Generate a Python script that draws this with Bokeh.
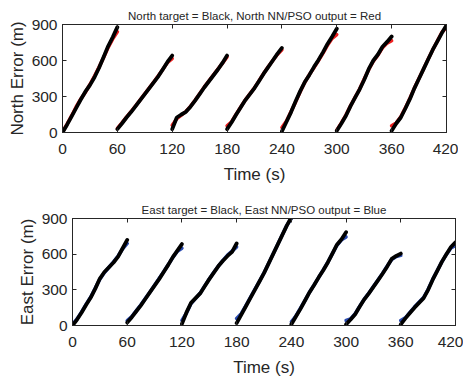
from bokeh.plotting import figure
from bokeh.models import LinearAxis, FixedTicker, Range1d
from bokeh.embed import file_html
from bokeh.resources import INLINE

# ---- data ----
segment_start_s = [0, 60, 120, 180, 240, 300, 360]
sample_offset_s = [0, 5, 10, 15, 20, 25, 30, 35, 40, 45, 50, 55, 60]

north_target = [
    [0, 65, 135, 205, 275, 340, 395, 460, 540, 630, 720, 795, 878],
    [28, 75, 125, 170, 220, 270, 320, 370, 420, 470, 530, 590, 641],
    [28, 125, 150, 172, 215, 265, 320, 375, 425, 475, 525, 580, 641],
    [28, 85, 150, 210, 270, 320, 370, 430, 490, 545, 600, 655, 705],
    [10, 90, 170, 260, 345, 420, 480, 545, 605, 670, 740, 800, 865],
    [14, 75, 140, 220, 290, 360, 440, 530, 600, 650, 715, 755, 800],
    [14, 75, 125, 200, 280, 370, 450, 530, 610, 690, 760, 830, 895],
]
north_output = [
    [5, 70, 140, 215, 280, 335, 400, 470, 545, 625, 710, 780, 840],
    [35, 80, 128, 175, 222, 272, 322, 372, 422, 475, 530, 585, 615],
    [60, 115, 145, 175, 218, 268, 322, 378, 428, 478, 528, 578, 630],
    [55, 90, 152, 212, 272, 322, 372, 432, 492, 548, 600, 650, 690],
    [42, 95, 175, 255, 340, 418, 482, 540, 600, 662, 730, 785, 815],
    [20, 80, 145, 222, 292, 362, 445, 525, 595, 645, 705, 745, 765],
    [56, 80, 130, 205, 285, 372, 452, 532, 612, 690, 762, 835, 875],
]
east_target = [
    [0, 50, 110, 175, 235, 310, 395, 450, 490, 530, 580, 650, 720],
    [25, 70, 120, 170, 225, 280, 335, 390, 450, 510, 575, 630, 685],
    [14, 110, 190, 230, 270, 330, 390, 445, 500, 545, 585, 620, 690],
    [20, 90, 160, 230, 300, 370, 440, 520, 600, 680, 760, 840, 910],
    [10, 75, 140, 210, 280, 340, 405, 465, 530, 605, 680, 725, 785],
    [10, 50, 95, 160, 220, 270, 325, 380, 435, 495, 560, 585, 605],
    [10, 60, 105, 150, 190, 230, 300, 385, 460, 535, 600, 660, 700],
]
east_output = [
    [10, 55, 115, 180, 240, 315, 390, 445, 490, 535, 585, 645, 690],
    [42, 75, 125, 175, 228, 282, 338, 395, 452, 512, 572, 625, 650],
    [42, 105, 185, 228, 272, 332, 392, 448, 500, 548, 592, 625, 660],
    [60, 100, 165, 235, 305, 372, 442, 522, 602, 682, 762, 842, 900],
    [30, 80, 145, 212, 282, 342, 405, 468, 532, 605, 675, 720, 745],
    [42, 55, 100, 162, 222, 272, 328, 382, 438, 498, 555, 580, 590],
    [42, 65, 110, 155, 195, 235, 305, 388, 462, 535, 598, 652, 672],
]

x_ticks = [0, 60, 120, 180, 240, 300, 360, 420]
y_ticks = [0, 300, 600, 900]

TXT = "#262626"
FONT = "Liberation Sans"


def style_axis(ax, labels=True):
    ax.major_tick_in = 4
    ax.major_tick_out = 0
    ax.minor_tick_in = 0
    ax.minor_tick_out = 0
    ax.axis_line_color = TXT
    ax.major_tick_line_color = TXT
    ax.major_label_text_font = FONT
    ax.major_label_text_color = TXT
    ax.axis_label_text_font = FONT
    ax.axis_label_text_color = TXT
    ax.axis_label_text_font_style = "normal"
    ax.axis_label_text_font_size = "17px"
    ax.major_label_text_font_size = "15.5px"
    if not labels:
        ax.major_label_text_color = None
        ax.major_label_standoff = 0


def make_panel(title, ylabel, target, output, out_color, fw, fh, bl, br, bt, bb):
    p = figure(frame_width=fw, frame_height=fh, x_range=Range1d(0, 420), y_range=Range1d(0, 900),
               output_backend="svg", toolbar_location=None, title=title,
               min_border_left=bl, min_border_right=br, min_border_top=bt,
               min_border_bottom=bb, background_fill_color="white",
               border_fill_color="white", outline_line_color=TXT)
    p.title.text_font = FONT
    p.title.text_font_size = "11.5px"
    p.title.text_font_style = "normal"
    p.title.text_color = TXT
    p.title.align = "center"
    p.title.standoff = 5
    p.xgrid.visible = False
    p.ygrid.visible = False

    p.xaxis.ticker = FixedTicker(ticks=x_ticks)
    p.yaxis.ticker = FixedTicker(ticks=y_ticks)
    p.xaxis.axis_label = "Time (s)"
    p.yaxis.axis_label = ylabel
    for ax in p.xaxis + p.yaxis:
        style_axis(ax)
    p.xaxis.major_label_standoff = 11
    p.xaxis.axis_label_standoff = 8
    p.yaxis.major_label_standoff = 5
    p.yaxis.axis_label_standoff = 2

    top = LinearAxis(ticker=FixedTicker(ticks=x_ticks))
    right = LinearAxis(ticker=FixedTicker(ticks=y_ticks))
    for ax in (top, right):
        style_axis(ax, labels=False)
    p.add_layout(top, "above")
    p.add_layout(right, "right")

    for start, tv, ov in zip(segment_start_s, target, output):
        xs = [start + o for o in sample_offset_s]
        p.line(xs, ov, line_color=out_color, line_width=3.5, line_cap="round", line_join="round")
        p.line(xs, tv, line_color="black", line_width=3.8, line_cap="round", line_join="round")
    return p


p1 = make_panel("North target = Black, North NN/PSO output = Red", "North Error (m)",
                north_target, north_output, "#ee2222", 384, 108, 62, 12, 24, 58)
p2 = make_panel("East target = Black, East NN/PSO output = Blue", "East Error (m)",
                east_target, east_output, "#2a4bb0", 383, 107, 72, 8, 28, 50)

open("out.html", "w").write(file_html([p1, p2], INLINE))
